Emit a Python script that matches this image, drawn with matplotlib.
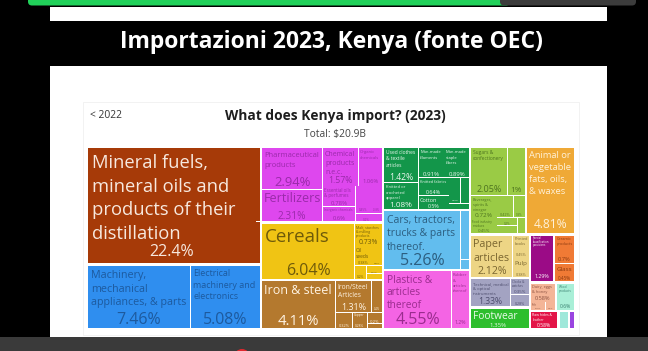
import matplotlib
matplotlib.use('Agg')
import matplotlib.pyplot as plt
from matplotlib.patches import Rectangle, FancyBboxPatch, Circle
from matplotlib.font_manager import FontProperties

FONT = 'Open Sans'
PX = 100 / 72.0  # pixels per point at dpi 100

# --- data: Kenya imports 2023, share of total (%) per HS2 product ---
section_names = ['Mineral products', 'Machines', 'Chemical products', 'Vegetable products',
                 'Metals', 'Textiles', 'Transportation', 'Plastics and rubbers',
                 'Foodstuffs', 'Animal and vegetable bi-products', 'Paper goods',
                 'Instruments', 'Footwear and headwear', 'Miscellaneous', 'Stone and glass',
                 'Animal products', 'Wood products', 'Animal hides', 'Weapons', 'Precious metals']

product_names = [
    'Mineral fuels, mineral oils and products of their distillation',
    'Salt; sulphur; earths & stone; lime & cement', 'Ores, slag and ash',
    'Machinery, mechanical appliances, & parts', 'Electrical machinery and electronics',
    'Pharmaceutical products', 'Fertilizers', 'Chemical products n.e.c.', 'Organic chemicals',
    'Essential oils & perfumes', 'Inorganic chemicals', 'Soaps & lubricants',
    'Tanning or dyeing extracts', 'Albuminoidal substances', 'Photographic goods',
    'Cereals', 'Malt, starches & milling products', 'Oil seeds', 'Coffee, tea & spices',
    'Vegetables', 'Fruits & nuts', 'Lac, gums & resins',
    'Iron & steel', 'Iron/Steel Articles', 'Miscellaneous articles of base metal',
    'Aluminium', 'Copper', 'Tools & cutlery', 'Zinc',
    'Used clothes & textile articles', 'Knitted or crocheted apparel', 'Man-made filaments',
    'Man-made staple fibers', 'Knitted fabrics', 'Cotton', 'Non-knit apparel',
    'Special woven fabrics', 'Wadding & felt',
    'Cars, tractors, trucks & parts thereof.', 'Aircraft', 'Railway',
    'Plastics & articles thereof', 'Rubber & articles thereof',
    'Sugars & confectionery', 'Misc. edible preparations', 'Beverages, spirits & vinegar',
    'Food industry residues', 'Preparations of cereals', 'Preparations of vegetables',
    'Tobacco', 'Cocoa', 'Preparations of meat',
    'Animal or vegetable fats, oils, & waxes',
    'Paper articles', 'Printed books', 'Pulp',
    'Technical, medical & optical instruments', 'Clocks & watches', 'Musical instruments',
    'Footwear', 'Headwear',
    'Special classification provisions',
    'Ceramic products', 'Glass',
    'Dairy, eggs & honey', 'Fish', 'Meat',
    'Wood products',
    'Raw hides & leather',
    'Arms & ammunition',
    'Precious metals & stones',
]

product_shares = [
    22.4, 0.35, 0.2,
    7.46, 5.08,
    2.94, 2.31, 1.57, 1.06, 0.78, 0.6, 0.45, 0.38, 0.2, 0.06,
    6.04, 0.73, 0.38, 0.25, 0.2, 0.15, 0.1,
    4.11, 1.31, 0.4, 0.32, 0.28, 0.2, 0.08,
    1.42, 1.08, 0.91, 0.89, 0.64, 0.5, 0.35, 0.25, 0.15,
    5.26, 0.5, 0.1,
    4.55, 1.2,
    2.05, 1.0, 0.72, 0.45, 0.42, 0.3, 0.2, 0.18, 0.15,
    4.81,
    2.12, 0.45, 0.38,
    1.33, 0.35, 0.28,
    1.35, 0.1,
    1.29,
    0.7, 0.45,
    0.58, 0.15, 0.1,
    0.6,
    0.58,
    0.22,
    0.12,
]

product_section = (['Mineral products'] * 3 + ['Machines'] * 2 + ['Chemical products'] * 10
                   + ['Vegetable products'] * 7 + ['Metals'] * 7 + ['Textiles'] * 9
                   + ['Transportation'] * 3 + ['Plastics and rubbers'] * 2 + ['Foodstuffs'] * 9
                   + ['Animal and vegetable bi-products'] + ['Paper goods'] * 3
                   + ['Instruments'] * 3 + ['Footwear and headwear'] * 2 + ['Miscellaneous']
                   + ['Stone and glass'] * 2 + ['Animal products'] * 3 + ['Wood products']
                   + ['Animal hides'] + ['Weapons'] + ['Precious metals'])

# --- styles ---
fill = {
    'Mineral products': '#A63A08', 'Machines': '#2F8EEF', 'Chemical products': '#DE47EE',
    'Vegetable products': '#F0C414', 'Metals': '#B4792E', 'Textiles': '#13964A',
    'Transportation': '#62BDEE', 'Plastics and rubbers': '#F464E4', 'Foodstuffs': '#9ACB45',
    'Animal and vegetable bi-products': '#EFA936', 'Paper goods': '#EDD585',
    'Instruments': '#A3A3C2', 'Footwear and headwear': '#2DBE2D', 'Miscellaneous': '#9B0B86',
    'Stone and glass': '#F07A35', 'Animal products': '#F4B597', 'Wood products': '#A9EFD7',
    'Animal hides': '#E31447', 'Weapons': '#9FE8DA', 'Precious metals': '#9A45E0',
}
ink = {
    'Mineral products': '#F7E8DE', 'Machines': '#1D5A9E', 'Chemical products': '#9A2AAA',
    'Vegetable products': '#6E5A0A', 'Metals': '#FFF3E2', 'Textiles': '#EAF7EE',
    'Transportation': '#2C5E80', 'Plastics and rubbers': '#9A2C8E', 'Foodstuffs': '#4E7420',
    'Animal and vegetable bi-products': '#FFF1D8', 'Paper goods': '#7A6630',
    'Instruments': '#4C4C6C', 'Footwear and headwear': '#EAFBEA', 'Miscellaneous': '#FFFFFF',
    'Stone and glass': '#8A3A10', 'Animal products': '#8A5040', 'Wood products': '#3A8070',
    'Animal hides': '#FFFFFF', 'Weapons': '#3A8070', 'Precious metals': '#FFFFFF',
}


def squarify(vals, x0, y0, x1, y1, ratio=(1 + 5 ** 0.5) / 2):
    # same rule as d3.treemapSquarify
    n = len(vals)
    rects = [None] * n
    i0 = i1 = 0
    value = float(sum(vals))
    while i0 < n:
        dx, dy = x1 - x0, y1 - y0
        s = vals[i1]
        i1 += 1
        mn = mx = s
        alpha = max(dy / dx, dx / dy) / (value * ratio)
        beta = s * s * alpha
        best = max(mx / beta, beta / mn)
        while i1 < n:
            v = vals[i1]
            s2 = s + v
            mn2, mx2 = min(mn, v), max(mx, v)
            beta = s2 * s2 * alpha
            r = max(mx2 / beta, beta / mn2)
            if r > best:
                break
            s, mn, mx, best = s2, mn2, mx2, r
            i1 += 1
        if dx < dy:
            yb = y0 + dy * s / value if i1 < n else y1
            xx = x0
            for k in range(i0, i1):
                w = dx * vals[k] / s
                rects[k] = (xx, y0, w, yb - y0)
                xx += w
            y0 = yb
        else:
            xb = x0 + dx * s / value if i1 < n else x1
            yy = y0
            for k in range(i0, i1):
                h = dy * vals[k] / s
                rects[k] = (x0, yy, xb - x0, h)
                yy += h
            x0 = xb
        value -= s
        i0 = i1
    return rects


fig = plt.figure(figsize=(6.48, 3.51), dpi=100, facecolor='black')
ax = fig.add_axes([0, 0, 1, 1])
ax.set_xlim(0, 648)
ax.set_ylim(351, 0)
ax.axis('off')
renderer = fig.canvas.get_renderer()

_wcache = {}


def tw(s, fs, weight='normal'):
    key = (s, weight)
    if key not in _wcache:
        fp = FontProperties(family=FONT, size=10, weight=weight)
        _wcache[key] = renderer.get_text_width_height_descent(s, fp, ismath=False)[0]
    return _wcache[key] * fs / 10.0


def wrap(words, fs, maxw):
    lines, cur = [], ''
    for wd in words:
        trial = (cur + ' ' + wd).strip()
        if tw(trial, fs) <= maxw:
            cur = trial
        else:
            if not cur or tw(wd, fs) > maxw:
                return None
            lines.append(cur)
            cur = wd
    lines.append(cur)
    return lines


def label(x, y, w, h, name, share, col):
    pct = f'{share:.3g}%'
    pad = min(4, max(1, 0.03 * min(w, h) + 0.8))
    target = min(45, 0.8 * (w - 2 * pad), 0.9 * h)
    fs_p = min(10 * target / tw(pct, 10), 11.8, 0.45 * h / PX)
    if fs_p < 1.6:
        return
    base_p = y + h - 0.065 * h
    ax.text(x + w / 2, base_p, pct, ha='center', va='baseline', fontsize=fs_p,
            color=col, family=FONT)
    pct_top = base_p - 0.72 * fs_p * PX
    words = name.split()
    fs = 13.5
    while fs >= 1.8:
        em = fs * PX
        lines = wrap(words, fs, w - 2 * pad)
        if lines:
            first = y + pad + 0.86 * em
            bottom = first + (len(lines) - 1) * 1.28 * em + 0.22 * em
            if bottom <= pct_top - 1:
                for i, ln in enumerate(lines):
                    ax.text(x + pad, first + i * 1.28 * em, ln, ha='left', va='baseline',
                            fontsize=fs, color=col, family=FONT)
                return
        fs -= 0.25


# --- screen furniture ---
ax.add_patch(FancyBboxPatch((28, -6), 482, 11.5, boxstyle='round,pad=0,rounding_size=4',
                            fc='#21D15A', ec='none'))
ax.add_patch(FancyBboxPatch((500, -6), 136, 11.5, boxstyle='round,pad=0,rounding_size=4',
                            fc='#3C3C3C', ec='none'))
ax.add_patch(Rectangle((50, 7), 557, 14, fc='white', ec='none'))
ax.add_patch(Rectangle((50, 66), 557, 271, fc='white', ec='none'))
ax.add_patch(Rectangle((0, 337), 648, 14, fc='#3A3A3A', ec='none'))
ax.add_patch(Circle((242, 357), 8, fc='#E0282E', ec='none'))
ax.add_patch(Rectangle((83, 102), 496, 233, fc='white', ec='#F0F0F0', lw=0.6))

title = 'Importazioni 2023, Kenya (fonte OEC)'
ax.text(331, 42, title, ha='center', va='center', color='white', family=FONT,
        weight='bold', fontsize=10 * 423 / tw(title, 10, 'bold'))
sub = 'What does Kenya import? (2023)'
ax.text(335, 116, sub, ha='center', va='center', color='#1E1E1E', family=FONT,
        weight='bold', fontsize=10 * 221 / tw(sub, 10, 'bold'))
ax.text(90, 115.5, '< 2022', ha='left', va='center', color='#333333', family=FONT,
        fontsize=10 * 32 / tw('< 2022', 10))
total = 'Total: $20.9B'
ax.text(335, 135, total.replace('$', r'\$'), ha='center', va='center', color='#444444',
        family=FONT, fontsize=10 * 62 / tw(total, 10))

# --- treemap ---
totals = {s: 0.0 for s in section_names}
for s, v in zip(product_section, product_shares):
    totals[s] += v
order = sorted(section_names, key=lambda s: -totals[s])
sec_rects = squarify([totals[s] for s in order], 87, 147, 575, 329)

g = 0.8
for sec, (sx, sy, sw, sh) in zip(order, sec_rects):
    items = sorted([(v, n) for n, v, s in zip(product_names, product_shares, product_section)
                    if s == sec], key=lambda t: -t[0])
    rects = squarify([v for v, _ in items], sx + g, sy + g, sx + sw - g, sy + sh - g)
    for (v, n), (px, py, pw, ph) in zip(items, rects):
        ax.add_patch(Rectangle((px + 0.4, py + 0.4), pw - 0.8, ph - 0.8,
                               fc=fill[sec], ec='none'))
        label(px + 0.4, py + 0.4, pw - 0.8, ph - 0.8, n, v, ink[sec])

fig.savefig('out.png', dpi=100, facecolor='black')
